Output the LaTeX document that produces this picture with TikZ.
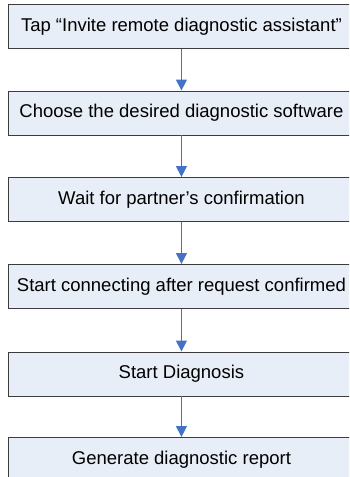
\documentclass[tikz,border=0pt]{standalone}
\usepackage{fontspec}
\setmainfont{Liberation Sans}
\usetikzlibrary{arrows.meta}
\definecolor{boxfill}{RGB}{232,238,247}
\definecolor{boxline}{RGB}{60,60,60}
\definecolor{arrowblue}{RGB}{68,114,196}
\tikzset{
  stepbox/.style={draw=boxline, line width=0.9pt, fill=boxfill, minimum width=346pt, minimum height=44pt, anchor=north west, inner sep=0pt, font=\fontsize{18.5}{21}\selectfont},
  flow/.style={draw=arrowblue, line width=1.1pt, -{Triangle[width=11pt,length=11pt]}}
}
\begin{document}
\begin{tikzpicture}[x=1pt,y=-1pt]
\useasboundingbox (0,0) rectangle (349,477);
\clip (0,0) rectangle (349,477);
\node[stepbox] (b1) at (8,4) {Tap “Invite remote diagnostic assistant”};
\node[stepbox] (b2) at (8,90.5) {Choose the desired diagnostic software};
\node[stepbox] (b3) at (8,177) {Wait for partner’s confirmation};
\node[stepbox] (b4) at (8,264) {Start connecting after request confirmed};
\node[stepbox] (b5) at (8,351.5) {Start Diagnosis};
\node[stepbox] (b6) at (8,437) {Generate diagnostic report};
\foreach \a/\b in {b1/b2,b2/b3,b3/b4,b4/b5,b5/b6}
  \draw[flow] (\a.south) -- (\b.north);
\end{tikzpicture}
\end{document}
